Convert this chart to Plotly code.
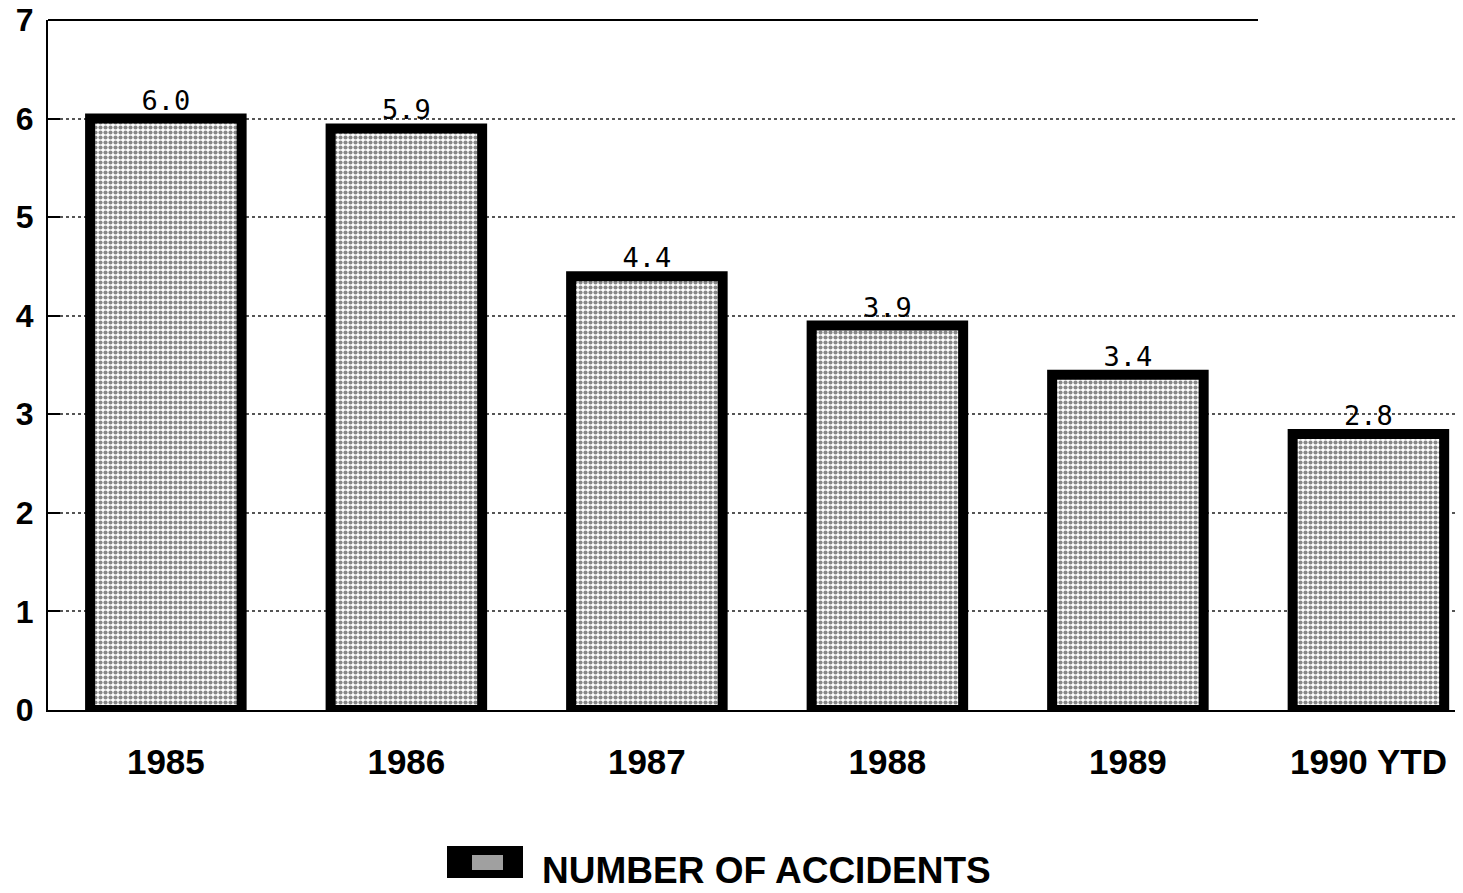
import plotly.graph_objects as go

categories = ["1985", "1986", "1987", "1988", "1989", "1990 YTD"]
accidents = [6.0, 5.9, 4.4, 3.9, 3.4, 2.8]
y_ticks = [0, 1, 2, 3, 4, 5, 6, 7]
legend_label = "NUMBER OF ACCIDENTS"

W, H = 1463, 893
L, T, R, B = 48, 20, 8, 183   # plot area: x 48..1455, y 20..710
PW, PH = W - L - R, H - T - B

fig = go.Figure()
fig.add_trace(go.Bar(
    x=categories,
    y=accidents,
    name=legend_label,
    width=0.63,
    marker=dict(
        color="white",
        line=dict(color="black", width=10),
        pattern=dict(shape=".", fgcolor="#111111", bgcolor="white", size=5, solidity=0.55),
    ),
    texttemplate="%{y:.1f}",
    textposition="outside",
    textfont=dict(family="DejaVu Sans Mono", size=27, color="black"),
    cliponaxis=False,
    showlegend=False,
))

fig.update_layout(
    width=W, height=H,
    margin=dict(l=L, r=R, t=T, b=B),
    plot_bgcolor="white", paper_bgcolor="white",
    xaxis=dict(
        type="category",
        range=[-0.49, 5.36],
        automargin=False,
        showline=True, linecolor="black", linewidth=2,
        ticks="", showgrid=False,
        tickfont=dict(family="Liberation Sans", size=35, color="black", weight="bold"),
        ticklabelstandoff=20,
    ),
    yaxis=dict(
        range=[0, 7],
        tickvals=y_ticks,
        automargin=False,
        ticklabeloverflow="allow",
        showline=True, linecolor="black", linewidth=2,
        ticks="inside", ticklen=12, tickwidth=2, tickcolor="black",
        showgrid=True, gridcolor="#555", griddash="dot", gridwidth=1.5,
        zeroline=False,
        tickfont=dict(family="Liberation Sans", size=32, color="black", weight="bold"),
        ticklabelstandoff=6,
    ),
)

def px_x(p):
    return (p - L) / PW

def px_y(p):
    return 1 - (p - T) / PH

# top frame line (solid part)
fig.add_shape(type="line", xref="paper", yref="paper",
              x0=0, x1=px_x(1258), y0=1, y1=1,
              line=dict(color="black", width=2))

# legend swatch and label drawn at the bottom
fig.add_shape(type="rect", xref="paper", yref="paper",
              x0=px_x(447), x1=px_x(523), y0=px_y(878), y1=px_y(846),
              fillcolor="black", line=dict(width=0))
fig.add_shape(type="rect", xref="paper", yref="paper",
              x0=px_x(472), x1=px_x(503), y0=px_y(870), y1=px_y(855),
              fillcolor="#a0a0a0", line=dict(width=0))
fig.add_annotation(xref="paper", yref="paper",
                   x=px_x(540), y=px_y(870),
                   xanchor="left", yanchor="middle", showarrow=False,
                   text=legend_label,
                   font=dict(family="Liberation Sans", size=37, color="black", weight="bold"))

fig.write_html("out.html",
               config={"displayModeBar": False},
               post_script="document.body.style.margin='0';document.body.style.overflow='hidden';")
